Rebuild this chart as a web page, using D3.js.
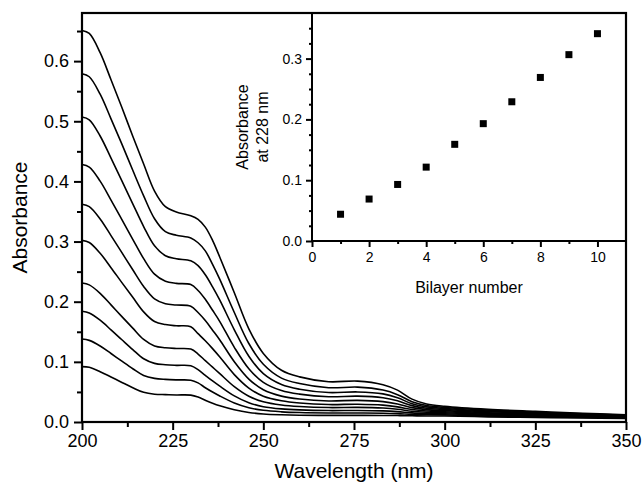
<!DOCTYPE html>
<html>
<head>
<meta charset="utf-8">
<script src="https://cdn.jsdelivr.net/npm/d3@7"></script>
<style>
  html, body { margin: 0; padding: 0; background: #fff; }
  svg { display: block; font-family: "Liberation Sans", Arial, Helvetica, sans-serif; }
</style>
</head>
<body>
<svg id="chart" width="643" height="486"></svg>
<script>
// ---- Data ----
const wavelengths = [200, 202, 205, 208, 211, 214, 217, 220, 223, 226, 230, 232, 234, 236, 238, 242, 246, 250, 255, 260, 268, 276, 283, 287, 291, 295, 300, 312, 325, 338, 350];

const absBilayer1  = [0.092, 0.091, 0.0837, 0.0748, 0.0658, 0.057, 0.0493, 0.0462, 0.0455, 0.045, 0.0447, 0.0415, 0.0362, 0.0312, 0.027, 0.0205, 0.0159, 0.0134, 0.012, 0.0113, 0.011, 0.011, 0.0109, 0.0107, 0.0103, 0.0101, 0.010, 0.0086, 0.0076, 0.0067, 0.006];
const absBilayer2  = [0.138, 0.1357, 0.1264, 0.1139, 0.1011, 0.0886, 0.0773, 0.0725, 0.0708, 0.070, 0.0695, 0.065, 0.057, 0.0498, 0.0432, 0.0317, 0.0238, 0.0194, 0.0169, 0.0157, 0.015, 0.015, 0.0146, 0.0139, 0.0127, 0.0121, 0.0118, 0.010, 0.0087, 0.0076, 0.0067];
const absBilayer3  = [0.184, 0.1812, 0.1692, 0.1532, 0.1367, 0.1204, 0.1051, 0.0975, 0.0952, 0.0942, 0.0935, 0.087, 0.0775, 0.0682, 0.0595, 0.0434, 0.032, 0.0255, 0.0218, 0.0201, 0.019, 0.0192, 0.0185, 0.0172, 0.0152, 0.0142, 0.0136, 0.0114, 0.0098, 0.0084, 0.0073];
const absBilayer4  = [0.231, 0.228, 0.2139, 0.1948, 0.1752, 0.1561, 0.1373, 0.1265, 0.1235, 0.1222, 0.1212, 0.113, 0.102, 0.0912, 0.0804, 0.0588, 0.0429, 0.0336, 0.0282, 0.0257, 0.024, 0.0243, 0.0232, 0.0212, 0.0179, 0.0162, 0.0153, 0.0127, 0.0109, 0.0093, 0.008];
const absBilayer5  = [0.302, 0.2985, 0.2806, 0.2566, 0.2317, 0.2073, 0.1831, 0.167, 0.162, 0.160, 0.1585, 0.1469, 0.1351, 0.122, 0.1081, 0.0788, 0.0564, 0.0428, 0.0352, 0.0315, 0.029, 0.0295, 0.028, 0.0252, 0.0207, 0.0183, 0.0171, 0.0142, 0.0121, 0.0102, 0.0087];
const absBilayer6  = [0.362, 0.3581, 0.3376, 0.3099, 0.2815, 0.2531, 0.2252, 0.2046, 0.1965, 0.1945, 0.1925, 0.182, 0.1686, 0.1527, 0.1364, 0.1002, 0.0714, 0.0536, 0.043, 0.0382, 0.035, 0.036, 0.0339, 0.030, 0.0239, 0.0206, 0.0189, 0.0155, 0.0131, 0.011, 0.0093];
const absBilayer7  = [0.428, 0.4238, 0.4005, 0.369, 0.3365, 0.3037, 0.2716, 0.2458, 0.234, 0.2305, 0.2285, 0.2187, 0.204, 0.1858, 0.167, 0.1242, 0.0886, 0.0659, 0.0523, 0.0463, 0.042, 0.043, 0.0403, 0.0352, 0.0272, 0.0229, 0.0207, 0.017, 0.0143, 0.0119, 0.010];
const absBilayer8  = [0.507, 0.5025, 0.4755, 0.4387, 0.401, 0.3627, 0.325, 0.293, 0.2765, 0.2715, 0.268, 0.260, 0.2448, 0.2247, 0.2026, 0.1533, 0.1093, 0.0804, 0.0623, 0.0545, 0.049, 0.050, 0.0467, 0.0403, 0.0304, 0.0252, 0.0224, 0.0183, 0.0154, 0.0128, 0.0107];
const absBilayer9  = [0.579, 0.574, 0.545, 0.504, 0.462, 0.4185, 0.376, 0.338, 0.3165, 0.3105, 0.306, 0.298, 0.2845, 0.262, 0.237, 0.182, 0.1305, 0.096, 0.073, 0.064, 0.057, 0.058, 0.0531, 0.0455, 0.0337, 0.0275, 0.0242, 0.0197, 0.0165, 0.0136, 0.0113];
const absBilayer10 = [0.651, 0.646, 0.614, 0.569, 0.523, 0.475, 0.429, 0.384, 0.358, 0.349, 0.343, 0.337, 0.324, 0.302, 0.274, 0.215, 0.155, 0.114, 0.086, 0.075, 0.067, 0.068, 0.062, 0.053, 0.038, 0.030, 0.026, 0.021, 0.0176, 0.0145, 0.012];

const spectra = [absBilayer1, absBilayer2, absBilayer3, absBilayer4, absBilayer5,
                 absBilayer6, absBilayer7, absBilayer8, absBilayer9, absBilayer10];

const bilayerNumbers = [1, 2, 3, 4, 5, 6, 7, 8, 9, 10];
const abs228 = [0.044, 0.069, 0.093, 0.1215, 0.159, 0.193, 0.229, 0.269, 0.3065, 0.341];

const mainXTicks = [200, 225, 250, 275, 300, 325, 350];
const mainYTicks = [0.0, 0.1, 0.2, 0.3, 0.4, 0.5, 0.6];
const insetXTicks = [0, 2, 4, 6, 8, 10];
const insetYTicks = [0.0, 0.1, 0.2, 0.3];

// ---- Layout ----
const svg = d3.select("#chart");
const L = 82, R = 626, T = 13, B = 422;
const x = d3.scaleLinear().domain([200, 350]).range([L, R]);
const y = d3.scaleLinear().domain([0, 0.68]).range([B, T]);

const ink = "#000";

// Spectra lines
const line = d3.line()
  .x((d, i) => x(wavelengths[i]))
  .y(d => y(d))
  .curve(d3.curveCatmullRom.alpha(0.5));

svg.append("g")
  .selectAll("path")
  .data(spectra)
  .join("path")
  .attr("d", d => line(d))
  .attr("fill", "none")
  .attr("stroke", ink)
  .attr("stroke-width", 1.6);

// Main axes
const xAxis = d3.axisBottom(x).tickValues(mainXTicks).tickSize(8).tickPadding(4).tickFormat(d3.format("d"));
const xMinor = d3.axisBottom(x).tickValues(d3.range(212.5, 350, 25)).tickSize(5).tickFormat("");
const yAxis = d3.axisLeft(y).tickValues(mainYTicks).tickSize(8).tickPadding(5).tickFormat(d3.format(".1f"));
const yMinor = d3.axisLeft(y).tickValues(d3.range(0.05, 0.66, 0.1)).tickSize(5).tickFormat("");

function styleAxis(g, fs) {
  g.select(".domain").remove();
  g.selectAll(".tick line").attr("stroke", ink).attr("stroke-width", 2);
  g.selectAll("text").attr("fill", ink).style("font-size", fs + "px").style("font-family", "'Liberation Sans', Arial, sans-serif");
}

svg.append("g").attr("transform", `translate(0,${B})`).call(xAxis).call(g => styleAxis(g, 18));
svg.append("g").attr("transform", `translate(0,${B})`).call(xMinor).call(g => styleAxis(g, 18));
svg.append("g").attr("transform", `translate(${L},0)`).call(yAxis).call(g => styleAxis(g, 18));
svg.append("g").attr("transform", `translate(${L},0)`).call(yMinor).call(g => styleAxis(g, 18));

// Main frame
svg.append("rect")
  .attr("x", L).attr("y", T).attr("width", R - L).attr("height", B - T)
  .attr("fill", "none").attr("stroke", ink).attr("stroke-width", 2.2);

// Titles
svg.append("text")
  .attr("x", (L + R) / 2).attr("y", 478)
  .attr("text-anchor", "middle")
  .style("font-size", "21px").attr("fill", ink)
  .text("Wavelength (nm)");

svg.append("text")
  .attr("transform", `translate(27,${(T + B) / 2}) rotate(-90)`)
  .attr("text-anchor", "middle")
  .style("font-size", "21px").attr("fill", ink)
  .text("Absorbance");

// ---- Inset ----
const iL = 312, iR = 626, iT = 13, iB = 241;
const ix = d3.scaleLinear().domain([0, 11]).range([iL, iR]);
const iy = d3.scaleLinear().domain([0, 0.375]).range([iB, iT]);

const ixAxis = d3.axisBottom(ix).tickValues(insetXTicks).tickSize(6).tickPadding(5).tickFormat(d3.format("d"));
const ixMinor = d3.axisBottom(ix).tickValues([1, 3, 5, 7, 9]).tickSize(3).tickFormat("");
const iyAxis = d3.axisLeft(iy).tickValues(insetYTicks).tickSize(6).tickPadding(4).tickFormat(d3.format(".1f"));
const iyMinor = d3.axisLeft(iy).tickValues([0.025, 0.05, 0.075, 0.125, 0.15, 0.175, 0.225, 0.25, 0.275, 0.325, 0.35]).tickSize(3).tickFormat("");

svg.append("g").attr("transform", `translate(0,${iB})`).call(ixAxis).call(g => styleAxis(g, 14));
svg.append("g").attr("transform", `translate(0,${iB})`).call(ixMinor).call(g => styleAxis(g, 14));
svg.append("g").attr("transform", `translate(${iL},0)`).call(iyAxis).call(g => styleAxis(g, 14));
svg.append("g").attr("transform", `translate(${iL},0)`).call(iyMinor).call(g => styleAxis(g, 14));

// Inset frame lines (left and bottom; top/right shared with main frame)
svg.append("line").attr("x1", iL).attr("x2", iL).attr("y1", iT).attr("y2", iB)
  .attr("stroke", ink).attr("stroke-width", 2);
svg.append("line").attr("x1", iL).attr("x2", iR).attr("y1", iB).attr("y2", iB)
  .attr("stroke", ink).attr("stroke-width", 2);

// Inset points
const sq = 7;
svg.append("g")
  .selectAll("rect")
  .data(bilayerNumbers)
  .join("rect")
  .attr("x", (d) => ix(d) - sq / 2)
  .attr("y", (d, i) => iy(abs228[i]) - sq / 2)
  .attr("width", sq).attr("height", sq)
  .attr("fill", ink);

// Inset titles
svg.append("text")
  .attr("x", (iL + iR) / 2).attr("y", 293)
  .attr("text-anchor", "middle")
  .style("font-size", "16px").attr("fill", ink)
  .text("Bilayer number");

const iyTitle = svg.append("text")
  .attr("transform", `translate(248,${(iT + iB) / 2}) rotate(-90)`)
  .attr("text-anchor", "middle")
  .style("font-size", "16px").attr("fill", ink);
iyTitle.append("tspan").attr("x", 0).attr("dy", 0).text("Absorbance");
iyTitle.append("tspan").attr("x", 0).attr("dy", 20).text("at 228 nm");
</script>
</body>
</html>
